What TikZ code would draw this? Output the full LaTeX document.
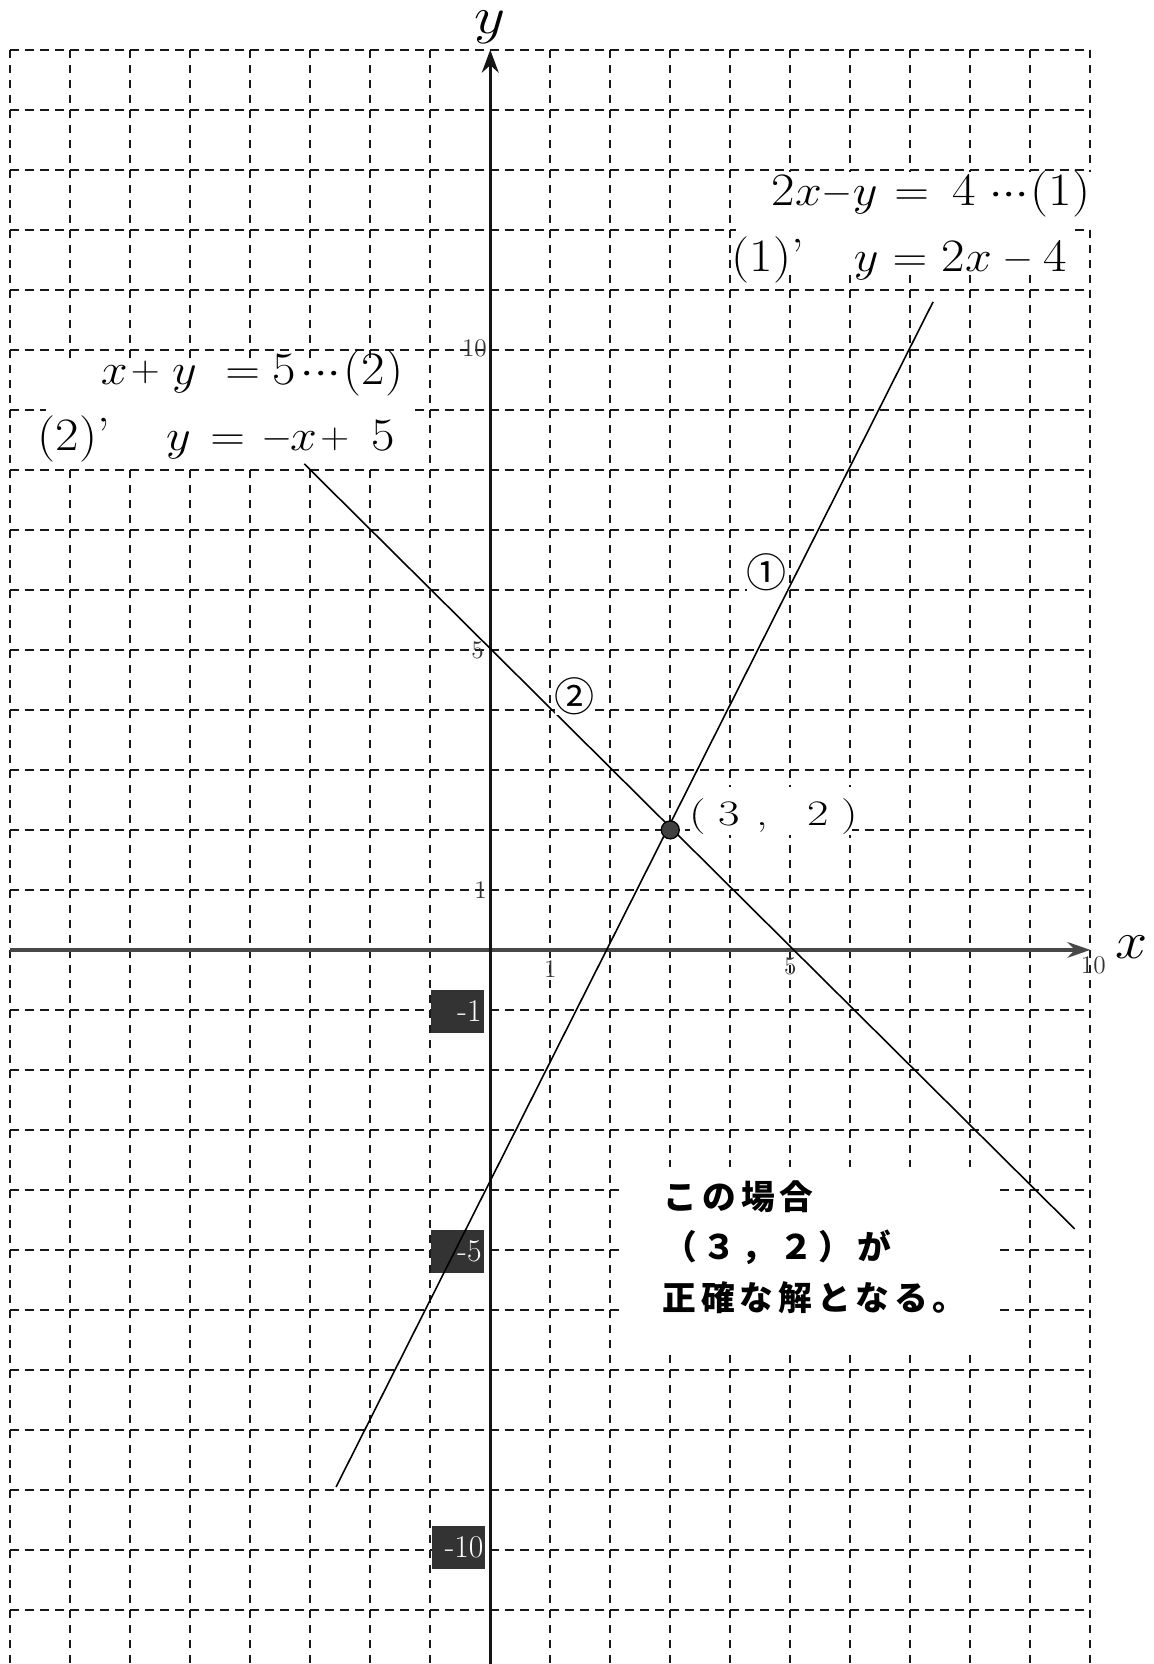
\documentclass[tikz,border=0pt]{standalone}
\usepackage{fontspec}
\usepackage{graphicx}
\newfontfamily\jpfont{Noto Sans CJK JP}
\newfontfamily\jpfontsp[LetterSpace=15]{Noto Sans CJK JP}
\newcommand{\smminus}{\raisebox{0.044cm}{\fontsize{17}{20}\selectfont$-$}}
\newcommand{\smplus}{\raisebox{0.044cm}{\fontsize{17}{20}\selectfont$+$}}
\newcommand{\tdots}{${\cdot}{\cdot}{\cdot}$}
\newcommand{\sx}[1]{\scalebox{1.1}[1]{#1}}
\newcommand{\sxx}[1]{\scalebox{1.3}[1]{#1}}
\usetikzlibrary{arrows.meta}
\begin{document}
\begin{tikzpicture}[
  gridline/.style={line width=1pt, black!90, dash pattern=on 0.14cm off 0.11cm},
  xaxisline/.style={line width=2pt, black!72, -{Stealth[length=0.38cm,width=0.26cm]}},
  yaxisline/.style={line width=1.6pt, black!92, -{Stealth[length=0.38cm,width=0.28cm]}},
  graphline/.style={line width=0.75pt, black},
  eraser/.style={fill=white},
  eqglyph/.style={font=\fontsize{22}{26}\selectfont, anchor=base, inner sep=0pt},
  eqlabel/.style={font=\fontsize{22}{26}\selectfont, anchor=base west, inner sep=0pt},
  axlabel/.style={font=\fontsize{24}{28}\selectfont, inner sep=0pt},
  ticklabel/.style={font=\fontsize{12}{14}\selectfont, text=black!80, inner sep=0pt},
  negbox/.style={fill=black!80, text=white, font=\fontsize{15}{17}\selectfont, minimum width=0.88cm, minimum height=0.72cm, inner sep=0pt},
  jptext/.style={font=\jpfontsp\bfseries\fontsize{16}{20}\selectfont, anchor=west, inner sep=0pt},
  circnum/.style={font=\jpfont\fontsize{19}{22}\selectfont, fill=white, inner sep=0pt},
  ptglyph/.style={font=\fontsize{17}{20}\selectfont, anchor=base, inner sep=0pt},
]
\useasboundingbox (-8.17,-11.9) rectangle (11.06,15.83);
\begin{scope}
  \clip (-8.17,-11.9) rectangle (11.06,15.83);
  \foreach \i in {-8,...,-1,1,2,...,10} \draw[gridline] (\i,15) -- (\i,-12.5);
  \foreach \j in {-12,...,-1,1,2,...,15} \draw[gridline] (-8,\j) -- (10,\j);
\end{scope}

% white areas behind the texts
\fill[eraser] (-7.4,8.05) rectangle (-1.32,9.86);
\fill[eraser] (4.1,11.25) rectangle (9.72,12.97);
\fill[eraser] (9.72,12.1) rectangle (10.07,12.97);
\fill[eraser] (3.33,1.92) rectangle (6.02,2.71);
\fill[eraser] (2.24,-6.64) rectangle (8.42,-3.62);

% axes
\coordinate (xs) at (-8,0);
\coordinate (xe) at (10,0);
\coordinate (ys) at (0,-12);
\coordinate (ye) at (0,15);
\draw[xaxisline] (xs) -- (xe);
\draw[yaxisline] (ys) -- (ye);
\node[axlabel] (xlab) at (10.68,0.05) {\sx{$x$}};
\node[axlabel] (ylab) at (0,15.37) {\scalebox{1.15}[1]{$y$}};

% tick labels
\node[ticklabel, anchor=east] (ty10) at (-0.05,10.03) {10};
\node[ticklabel, anchor=east] (ty5) at (-0.1,5.0) {5};
\node[ticklabel, anchor=east] (ty1) at (-0.05,1.0) {1};
\node[ticklabel] (tx1) at (1.0,-0.32) {1};
\node[ticklabel] (tx5) at (5.0,-0.28) {5};
\node[ticklabel] (tx10) at (10.05,-0.25) {10};
\node[negbox] (tm1) at (-0.545,-1.02) {\makebox[0.8cm][r]{-1}};
\node[negbox] (tm5) at (-0.545,-5.03) {\makebox[0.8cm][r]{-5}};
\node[negbox] (tm10) at (-0.535,-9.96) {\makebox[0.84cm][r]{-10}};

% graphs
\coordinate (l1a) at (-2.57,-8.95);
\coordinate (l1b) at (7.38,10.8);
\coordinate (l2a) at (-3.1,8.1);
\coordinate (l2b) at (9.74,-4.65);
\draw[graphline] (l1a) -- (l1b);
\draw[graphline] (l2a) -- (l2b);
\node[circle, fill=black!75, draw=black, line width=0.6pt, minimum size=0.3cm, inner sep=0pt] (P) at (3,2) {};

% equation labels (glyph by glyph, as spaced in the picture)
\foreach \px/\t [count=\n] in {5.11/2$x$, 5.775/\smminus, 6.25/$y$, 7.025/$=$, 7.9/4, 8.65/\tdots, 9.5/(1)}
  \node[eqglyph] (eqA\n) at (\px,12.4) {\sx{\t}};
\node[eqlabel] (eqB0) at (4.02,11.3) {\sx{(1)’}};
\foreach \px/\t [count=\n] in {6.265/$y$, 6.995/$=$, 7.94/2$x$, 8.8/\smminus, 9.42/4}
  \node[eqglyph] (eqB\n) at (\px,11.3) {\sx{\t}};
\foreach \px/\t [count=\n] in {-6.265/$x$, -5.75/\smplus, -5.095/$y$, -4.125/$=$, -3.43/5, -2.82/\tdots, -1.945/(2)}
  \node[eqglyph] (eqC\n) at (\px,9.43) {\sx{\t}};
\node[eqlabel] (eqD0) at (-7.55,8.32) {\sx{(2)’}};
\foreach \px/\t [count=\n] in {-5.195/$y$, -4.375/$=$, -3.545/\smminus, -3.11/$x$, -2.59/\smplus, -1.79/5}
  \node[eqglyph] (eqD\n) at (\px,8.32) {\sx{\t}};

\node[circnum] (c1) at (4.61,6.29) {①};
\node[circnum] (c2) at (1.41,4.22) {②};

% intersection label
\foreach \px/\t [count=\n] in {3.46/(, 3.98/3, 4.54/{,}, 5.46/2, 5.99/)}
  \node[ptglyph] (pt\n) at (\px,2.08) {\sxx{\t}};

\node[jptext] (j1) at (2.88,-4.12) {この場合};
\node[jptext] (j2) at (2.88,-4.95) {（３，２）が};
\node[jptext] (j3) at (2.86,-5.79) {正確な解となる。};
\end{tikzpicture}
\end{document}
